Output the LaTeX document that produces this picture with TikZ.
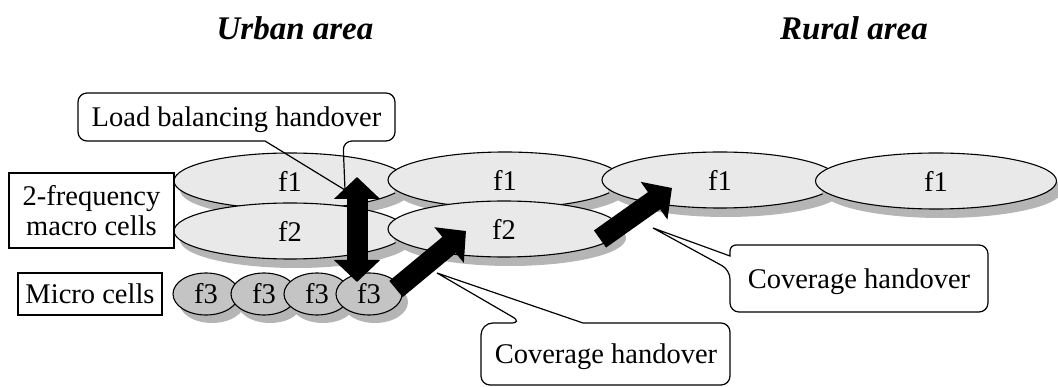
\documentclass[tikz,border=0pt]{standalone}
\usepackage{fontspec}
\setmainfont{Liberation Serif}
\usetikzlibrary{shapes.geometric,shadows,arrows.meta}
\begin{document}
\begin{tikzpicture}[x=1pt,y=-1pt,
  txt/.style={font=\fontsize{28.5}{30}\selectfont},
  title/.style={font=\fontsize{33}{35}\selectfont\bfseries\itshape, anchor=base},
  macro/.style={ellipse, draw, line width=1.1pt, fill=gray!17, inner sep=0pt, txt,
    minimum width=232pt, minimum height=56pt,
    drop shadow={shadow xshift=6pt, shadow yshift=-9pt, fill=gray!58, opacity=1}},
  micro/.style={ellipse, draw, line width=1.1pt, fill=gray!46, inner sep=0pt, txt,
    minimum width=66pt, minimum height=42pt,
    drop shadow={shadow xshift=6pt, shadow yshift=-8pt, fill=gray!58, opacity=1}},
  labelbox/.style={draw, line width=1.2pt, fill=white, inner sep=0pt, txt, align=center},
  callout/.style={draw, line width=1.2pt},
  blockarrow/.style={line width=21pt, black},
  >={Triangle[width=45pt,length=22pt]}
]
\useasboundingbox (0,0) rectangle (1058,387);

% titles
\node[title] (urban) at (295,40) {Urban area};
\node[title] (rural) at (854,40) {Rural area};

% macro cells
\node[macro] (f1a) at (290,181) {f1};
\node[macro] (f2a) at (290,231) {f2};
\node[macro, minimum width=234pt] (f1b) at (505,180) {f1};
\node[macro] (f2b) at (504,229) {f2};
\node[macro, minimum width=236pt] (f1c) at (720,180) {f1};
\node[macro, minimum width=241pt] (f1d) at (936,181) {f1};

% micro cells
\node[micro] (f3a) at (206,294) {f3};
\node[micro] (f3b) at (264,294) {f3};
\node[micro] (f3c) at (317,294) {f3};
\node[micro] (f3d) at (369,294) {f3};

% label boxes
\node[labelbox, minimum width=165pt, minimum height=75pt] (mac) at (91.5,210.5) {2-frequency\\macro cells};
\node[labelbox, minimum width=144pt, minimum height=42pt] (mic) at (90,294) {Micro cells};

% callouts
\node[txt, anchor=base] (lb) at (236.5,127) {Load balancing handover};
\draw[callout] (78,117) [rounded corners=9pt] -- (78,93) -- (395,93) -- (395,141) -- (343,141)
  [sharp corners] -- (345,190) -- (265,141) [rounded corners=9pt] -- (78,141) -- cycle;

\node[txt, anchor=base] (cov1) at (606,364) {Coverage handover};
\draw[callout] (481,354) [rounded corners=12pt] -- (481,323) -- (523,323)
  [sharp corners] -- (437,273) -- (583,323) [rounded corners=9pt] -- (730,323) -- (730,385) -- (481,385) -- cycle;

\node[txt, anchor=base] (cov2) at (859,289) {Coverage handover};
\draw[callout] (860,245) [rounded corners=9pt] -- (988,245) -- (988,312) -- (730,312) -- (730,270)
  [sharp corners] -- (653,228) -- (730,256) [rounded corners=6pt] -- (730,245) -- cycle;

% arrows
\coordinate (va) at (357,282);
\coordinate (vb) at (357,177);
\coordinate (da) at (396,289);
\coordinate (db) at (466,231);
\coordinate (ea) at (600,239);
\coordinate (eb) at (672,188);
\draw[blockarrow, <->] (va) -- (vb);
\draw[blockarrow, ->] (da) -- (db);
\draw[blockarrow, ->] (ea) -- (eb);
\end{tikzpicture}
\end{document}
